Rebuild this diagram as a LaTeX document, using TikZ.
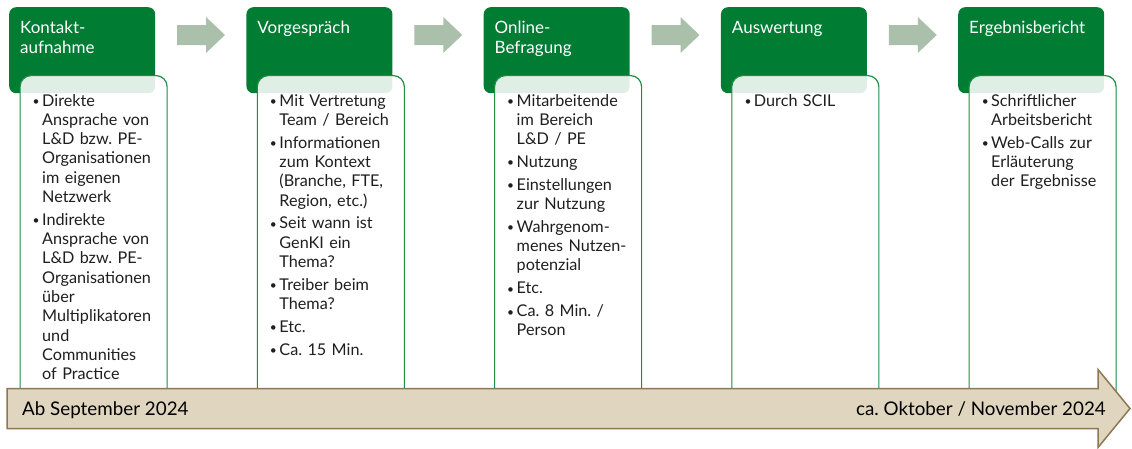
\documentclass[tikz,border=0pt]{standalone}
\usepackage{fontspec}
\setmainfont{Lato}

\definecolor{headgreen}{RGB}{0,124,51}
\definecolor{linegreen}{RGB}{30,142,66}
\definecolor{stepgray}{RGB}{170,192,170}
\definecolor{timefill}{RGB}{224,214,192}
\definecolor{timeedge}{RGB}{140,120,82}
\newcommand\bul{\leavevmode\llap{\raisebox{0.5pt}{\fontsize{12}{12}\selectfont\textbullet}\hspace{2.5pt}}}
\frenchspacing

\begin{document}
\begin{tikzpicture}[x=1pt,y=-1pt,
    head/.style={fill=headgreen, rounded corners=7pt, minimum width=146pt,
      minimum height=86pt, inner sep=0pt, anchor=north west},
    card/.style={draw=linegreen, line width=1.2pt, fill=white, fill opacity=0.88,
      rounded corners=11pt, minimum width=147pt, minimum height=330pt,
      inner sep=0pt, anchor=north west},
    headtext/.style={text=white, font=\fontsize{17}{20}\selectfont,
      text width=130pt, align=left, inner sep=0pt, anchor=base west},
    bodytext/.style={text=black!88, font=\fontsize{16.2}{19.3}\selectfont,
      text width=128pt, align=left, inner sep=0pt, anchor=base west},
    timetext/.style={font=\fontsize{18.8}{22}\selectfont, inner sep=0pt}]
  \useasboundingbox (0,0) rectangle (1132,448);

  % headers and cards
  \node[head] (h1) at (9,7) {};
  \node[head] (h2) at (246.25,7) {};
  \node[head] (h3) at (483.5,7) {};
  \node[head] (h4) at (720.75,7) {};
  \node[head] (h5) at (958,7) {};

  \node[card] (c1) at (19.5,75) {};
  \node[card] (c2) at (256.75,75) {};
  \node[card] (c3) at (494,75) {};
  \node[card] (c4) at (731.25,75) {};
  \node[card] (c5) at (968.5,75) {};

  % arrows between the steps
  \foreach \x in {177,414.25,651.5,888.75}
    \fill[stepgray] (\x,25) -- ++(29,0) -- ++(0,-8) -- ++(19,18) -- ++(-19,18)
      -- ++(0,-8) -- (\x,45) -- cycle;

  \node[headtext] (t1) at (20,33) {Kontakt-\\aufnahme};
  \node[headtext] (t2) at (257.25,33) {Vorgespräch};
  \node[headtext] (t3) at (494.5,33) {Online-\\Befragung};
  \node[headtext] (t4) at (731.75,33) {Auswertung};
  \node[headtext] (t5) at (969,33) {Ergebnisbericht};

  \node[bodytext] (b1) at (42,106) {\bul Direkte\\ Ansprache von\\ L\&D bzw. PE-\\
    Organisationen\\ im eigenen\\ Netzwerk\\[3.5pt]
    \bul Indirekte\\ Ansprache von\\ L\&D bzw. PE-\\ Organisationen\\ über\\
    Multiplikatoren\\ und\\ Communities\\ of Practice};
  \node[bodytext] (b2) at (279.25,106) {\bul Mit Vertretung\\ Team / Bereich\\[3.5pt]
    \bul Informationen\\ zum Kontext\\ (Branche, FTE,\\ Region, etc.)\\[3.5pt]
    \bul Seit wann ist\\ GenKI ein\\ Thema?\\[3.5pt]
    \bul Treiber beim\\ Thema?\\[3.5pt]
    \bul Etc.\\[3.5pt]
    \bul Ca. 15 Min.};
  \node[bodytext] (b3) at (516.5,106) {\bul Mitarbeitende\\ im Bereich\\ L\&D / PE\\[3.5pt]
    \bul Nutzung\\[3.5pt]
    \bul Einstellungen\\ zur Nutzung\\[3.5pt]
    \bul Wahrgenom-\\ menes Nutzen-\\ potenzial\\[3.5pt]
    \bul Etc.\\[3.5pt]
    \bul Ca. 8 Min. /\\ Person};
  \node[bodytext] (b4) at (753.75,106) {\bul Durch SCIL};
  \node[bodytext] (b5) at (991,106) {\bul Schriftlicher\\ Arbeitsbericht\\[3.5pt]
    \bul Web-Calls zur\\ Erläuterung\\ der Ergebnisse};

  % time line
  \filldraw[fill=timefill, draw=timeedge, line width=1.5pt, line join=miter]
    (7,388.5) -- (1098,388.5) -- (1098,369.5) -- (1130,408.5) -- (1098,447.5)
    -- (1098,428.5) -- (7,428.5) -- cycle;
  \node[timetext, anchor=base west] (from) at (22,415.5) {Ab September 2024};
  \node[timetext, anchor=base east] (until) at (1106,415.5) {ca. Oktober / November 2024};
\end{tikzpicture}
\end{document}
